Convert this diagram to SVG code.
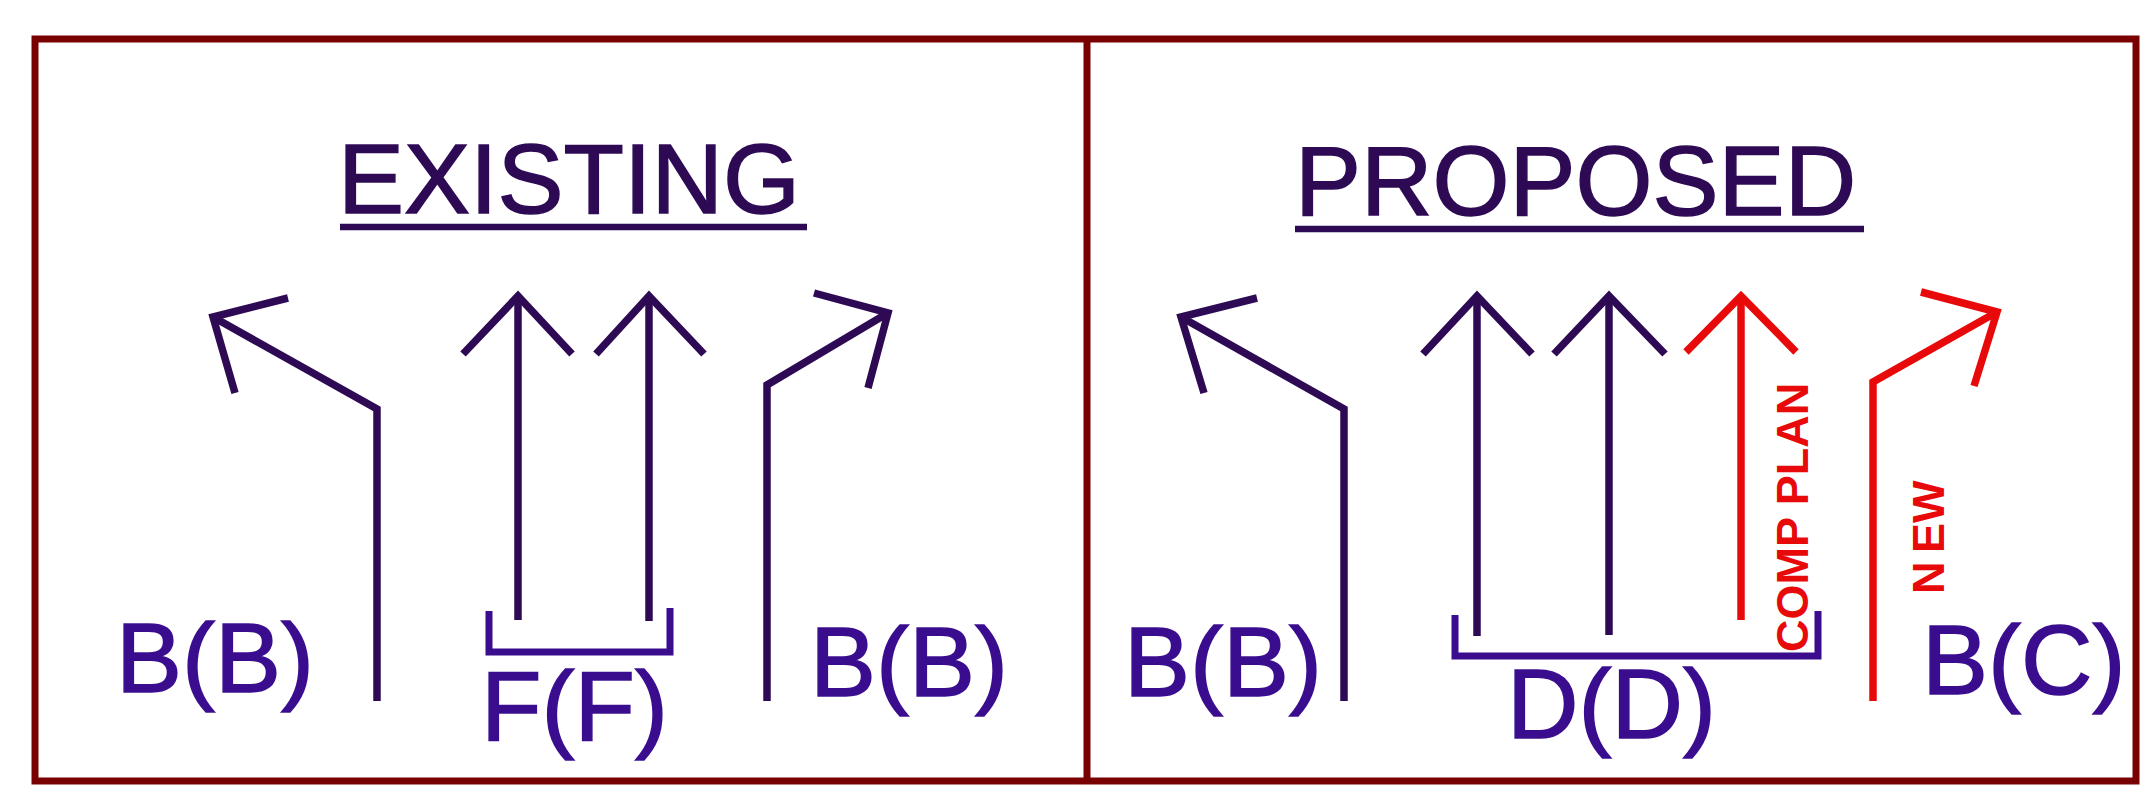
<svg xmlns="http://www.w3.org/2000/svg" width="2140" height="793" viewBox="0 0 2140 793">
<style>
.frame{fill:none;stroke:#780000;stroke-width:7}
.ln{fill:none;stroke:#2e0a55;stroke-width:7.5;stroke-linecap:butt;stroke-linejoin:miter;stroke-miterlimit:10}
.red{stroke:#e80a0a}
.br{fill:none;stroke:#3a0d8f;stroke-width:7;stroke-linecap:butt;stroke-linejoin:miter}
.title{font-family:"Liberation Sans",Arial,sans-serif;font-size:99px;fill:#2e0a55;stroke:#2e0a55;stroke-width:1.5}
.lbl{font-family:"Liberation Sans",Arial,sans-serif;font-size:99px;fill:#3a0d8f;stroke:#3a0d8f;stroke-width:1.5}
.rlbl{font-family:"Liberation Sans",Arial,sans-serif;font-size:45px;font-weight:bold;fill:#e80a0a}
.ul{stroke:#2e0a55;stroke-width:6.5}
</style>
<rect width="2140" height="793" fill="#ffffff"/>
<g id="frame">
<rect class="frame" x="35" y="39" width="2101" height="742"/>
<line class="frame" x1="1087" y1="39" x2="1087" y2="781"/>
</g>
<g id="existing-title">
<text class="title" x="338" y="213">EXISTING</text>
<line class="ul" x1="340" y1="227" x2="807" y2="227"/>
</g>
<g id="proposed-title">
<text class="title" x="1295" y="215">PROPOSED</text>
<line class="ul" x1="1295" y1="229" x2="1864" y2="229"/>
</g>
<g id="connectors">
<!-- existing -->
<polyline class="ln" points="377,701 377,409 213,317"/>
<polyline class="ln" points="288,298 213,317 235,393"/>
<polyline class="ln" points="518,620 518,296"/>
<polyline class="ln" points="463,354 518,296 572,354"/>
<polyline class="ln" points="649,621 649,296"/>
<polyline class="ln" points="596,354 649,296 704,354"/>
<polyline class="ln" points="767,701 767,385 888,313"/>
<polyline class="ln" points="814,293 888,313 868,388"/>
<path class="br" d="M489 611 V652 H670 V608"/>
<!-- proposed -->
<polyline class="ln" points="1344,701 1344,409 1181,317"/>
<polyline class="ln" points="1257,298 1181,317 1204,393"/>
<polyline class="ln" points="1477,636 1477,296"/>
<polyline class="ln" points="1423,354 1477,296 1532,354"/>
<polyline class="ln" points="1609,635 1609,296"/>
<polyline class="ln" points="1554,354 1609,296 1665,354"/>
<polyline class="ln red" points="1741,620 1741,296"/>
<polyline class="ln red" points="1686,352 1741,296 1796,352"/>
<polyline class="ln red" points="1873,701 1873,382 1997,312"/>
<polyline class="ln red" points="1921,292 1997,312 1974,386"/>
<path class="br" d="M1455 615 V656 H1818 V611"/>
</g>
<g id="label-existing-left"><text class="lbl" x="116" y="692">B(B)</text></g>
<g id="label-existing-center"><text class="lbl" x="481" y="740">F(F)</text></g>
<g id="label-existing-right"><text class="lbl" x="810" y="696">B(B)</text></g>
<g id="label-proposed-left"><text class="lbl" x="1124" y="696">B(B)</text></g>
<g id="label-proposed-center"><text class="lbl" x="1507" y="738">D(D)</text></g>
<g id="label-proposed-right"><text class="lbl" x="1922" y="694">B(C)</text></g>
<g id="label-comp-plan"><text class="rlbl" transform="translate(1808,652) rotate(-90)">COMP PLAN</text></g>
<g id="label-new"><text class="rlbl" transform="translate(1944,594) rotate(-90)">N<tspan dx="-4"> EW</tspan></text></g>
</svg>
